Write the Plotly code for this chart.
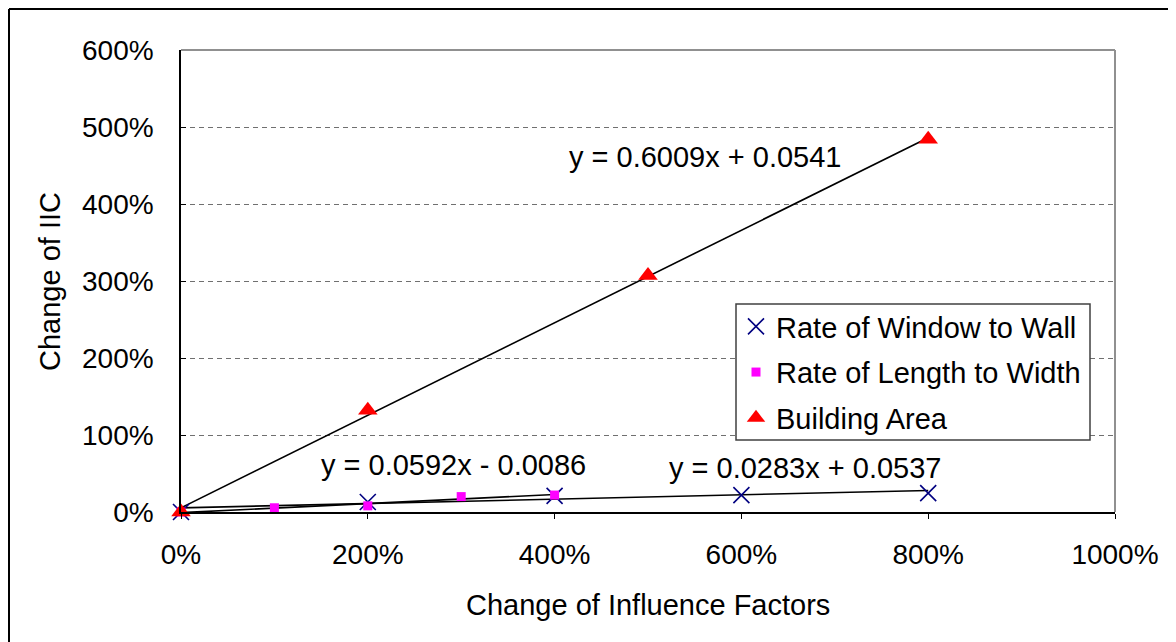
import plotly.graph_objects as go

# ---- data (fractions; axes formatted as %) ----
window_x = [0, 2, 4, 6, 8]
window_y = [0, 0.13, 0.21, 0.22, 0.245]
length_x = [0, 1, 2, 3, 4]
length_y = [0, 0.055, 0.08, 0.20, 0.22]
area_x = [0, 2, 5, 8]
area_y = [0, 1.32, 3.07, 4.84]

# trendline coefficients (slope, intercept)
window_fit = (0.0283, 0.0537)
length_fit = (0.0592, -0.0086)
area_fit = (0.6009, 0.0541)

x_ticks = [0, 2, 4, 6, 8, 10]
y_ticks = [0, 1, 2, 3, 4, 5, 6]

FONT = "Liberation Sans, Arial, sans-serif"
FS = 29
TFS = 28

# page has an 8px body margin; figure is sized so that the plot area sits
# at x 181..1115, y 50..512 of the browser window
def px(xp):
    return (xp - 181) / 934

def py(yp):
    return (512 - yp) / 462

fig = go.Figure()

def trend(xs, fit):
    x0, x1 = min(xs), max(xs)
    return [x0, x1], [fit[0] * x0 + fit[1], fit[0] * x1 + fit[1]]

for xs, fit in [(area_x, area_fit), (window_x, window_fit), (length_x, length_fit)]:
    tx, ty = trend(xs, fit)
    fig.add_trace(go.Scatter(x=tx, y=ty, mode="lines", showlegend=False,
                             line=dict(color="black", width=1.6), hoverinfo="skip"))

fig.add_trace(go.Scatter(x=window_x, y=window_y, mode="markers", name="Rate of Window to Wall",
                         legendgroup="a", cliponaxis=False,
                         marker=dict(symbol="x-thin-open", size=16, color="#000080",
                                     line=dict(color="#000080", width=1.6))))
fig.add_trace(go.Scatter(x=length_x, y=length_y, mode="markers", name="Rate of Length to Width",
                         legendgroup="b", cliponaxis=False,
                         marker=dict(symbol="square", size=9, color="#FF00FF")))
fig.add_trace(go.Scatter(x=area_x, y=area_y, mode="markers", name="Building Area",
                         legendgroup="c", cliponaxis=False,
                         marker=dict(symbol="triangle-up", size=17, color="#FF0000")))

ann_font = dict(family=FONT, size=FS, color="black")
annotations = [
    dict(x=5.62, y=4.61, xref="x", yref="y", text="y = 0.6009x + 0.0541", showarrow=False, font=ann_font),
    dict(x=2.92, y=0.61, xref="x", yref="y", text="y = 0.0592x - 0.0086", showarrow=False, font=ann_font),
    dict(x=6.69, y=0.57, xref="x", yref="y", text="y = 0.0283x + 0.0537", showarrow=False, font=ann_font),
    dict(x=px(50), y=py(282), xref="paper", yref="paper", text="Change of IIC",
         textangle=-90, showarrow=False, font=ann_font, xanchor="center", yanchor="middle"),
    dict(x=px(648), y=py(605), xref="paper", yref="paper",
         text="Change of Influence Factors", showarrow=False, font=ann_font,
         xanchor="center", yanchor="middle"),
]

shapes = [
    # plot area gray top/right border
    dict(type="line", xref="paper", yref="paper", x0=0, x1=1, y0=1, y1=1, line=dict(color="#909090", width=2)),
    dict(type="line", xref="paper", yref="paper", x0=1, x1=1, y0=0, y1=1, line=dict(color="#909090", width=2)),
    # outer chart border (top and left)
    dict(type="line", xref="paper", yref="paper", x0=px(9), x1=px(1250), y0=py(9), y1=py(9),
         line=dict(color="black", width=2)),
    dict(type="line", xref="paper", yref="paper", x0=px(9), x1=px(9), y0=py(700), y1=py(9),
         line=dict(color="black", width=2)),
    # legend frame
    dict(type="rect", xref="paper", yref="paper", x0=px(736), x1=px(1090), y0=py(440), y1=py(304),
         fillcolor="white", line=dict(color="#404040", width=1.5), layer="above"),
]

fig.update_layout(
    width=1168, height=634,
    margin=dict(l=173, r=61, t=42, b=130),
    paper_bgcolor="white", plot_bgcolor="white",
    font=dict(family=FONT, size=FS, color="black"),
    showlegend=True,
    legend=dict(x=px(736), y=py(301), xanchor="left", yanchor="top",
                bgcolor="rgba(0,0,0,0)", borderwidth=0,
                font=dict(family=FONT, size=FS), tracegroupgap=5, itemwidth=30),
    annotations=annotations,
    shapes=shapes,
    xaxis=dict(range=[0, 10], tickvals=x_ticks, tickformat=".0%", showgrid=False, zeroline=False,
               showline=True, linecolor="black", linewidth=1.5, ticks="outside", ticklen=5,
               tickcolor="black", ticklabelstandoff=12, tickfont=dict(size=TFS)),
    yaxis=dict(range=[0, 6], tickvals=y_ticks, tickformat=".0%", showgrid=True, gridcolor="#707070",
               griddash="5px,4px", gridwidth=1.2, zeroline=False,
               showline=True, linecolor="black", linewidth=1.5, ticks="inside", ticklen=5,
               tickcolor="black", ticklabelstandoff=20, tickfont=dict(size=TFS)),
)

fig.write_html("out.html")
